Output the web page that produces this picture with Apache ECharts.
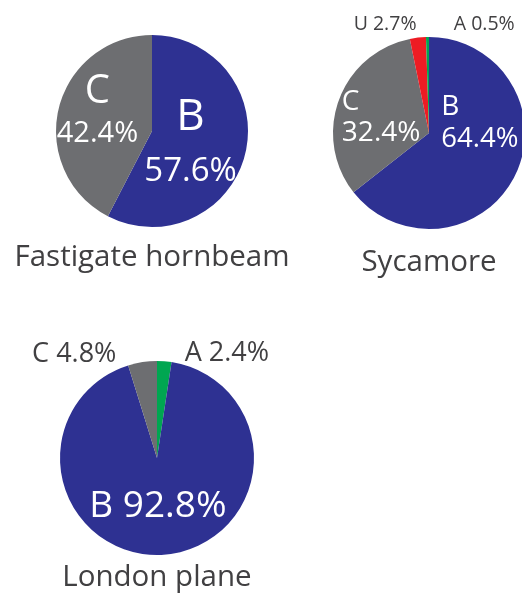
<!DOCTYPE html>
<html>
<head>
<meta charset="utf-8">
<script src="https://cdn.jsdelivr.net/npm/echarts@6/dist/echarts.min.js"></script>
<style>
  html, body { margin: 0; padding: 0; background: #fff; }
  #main { width: 522px; height: 595px; }
</style>
</head>
<body>
<div id="main"></div>
<script>
// data
var treeNames = ['Fastigate hornbeam', 'Sycamore', 'London plane'];
var hornbeamCats = ['B', 'C'];
var hornbeamVals = [57.6, 42.4];
var sycamoreCats = ['B', 'C', 'U', 'A'];
var sycamoreVals = [64.4, 32.4, 2.7, 0.5];
var planeCats = ['A', 'B', 'C'];
var planeVals = [2.4, 92.8, 4.8];

var catColors = { A: '#00a651', B: '#2e3192', C: '#6d6e71', U: '#ed1c24' };
var darkText = '#414042';
var font = 'Open Sans';

// label looks: 'stack' = letter over value, 'line' = one line
var labelStyles = [
    {
        B: { kind: 'stack', big: 44, num: 33, lh1: 60, lh2: 50, align: 'center', color: '#fff', offset: [-11, -1] },
        C: { kind: 'stack', big: 40, num: 29, lh1: 46, lh2: 38, align: 'center', color: '#fff', offset: [-5, -8] }
    },
    {
        B: { kind: 'stack', big: 28, num: 27.5, lh1: 32, lh2: 32, align: 'left', color: '#fff', offset: [5, -32] },
        C: { kind: 'stack', big: 28, num: 28, lh1: 31, lh2: 31, align: 'left', color: '#fff', offset: [0, 2] },
        U: { kind: 'line', size: 19.5, color: darkText, offset: [-38, -58] },
        A: { kind: 'line', size: 19.5, color: darkText, offset: [56, -58] }
    },
    {
        A: { kind: 'line', size: 27, color: darkText, offset: [66, -53] },
        B: { kind: 'line', size: 37, color: '#fff', offset: [-3, -3] },
        C: { kind: 'line', size: 27, color: darkText, offset: [-75, -53] }
    }
];

var centers = [[152, 131], [429, 133], [157, 458]];
var radii = [96, 96, 97];
var titleTops = [243, 248, 563];

function buildData(cats, vals, styles) {
    return cats.map(function (c, i) {
        var s = styles[c];
        var pct = vals[i].toFixed(1) + '%';
        var label;
        if (s.kind === 'stack') {
            label = {
                formatter: '{a|' + c + '}\n{b|' + pct + '}',
                offset: s.offset,
                rich: {
                    a: { fontSize: s.big, lineHeight: s.lh1, color: s.color, fontFamily: font, align: s.align },
                    b: { fontSize: s.num, lineHeight: s.lh2, color: s.color, fontFamily: font, align: s.align }
                }
            };
        } else {
            label = {
                formatter: c + ' ' + pct,
                offset: s.offset,
                fontSize: s.size,
                color: s.color,
                fontFamily: font
            };
        }
        return { name: c, value: vals[i], itemStyle: { color: catColors[c] }, label: label };
    });
}

var allCats = [hornbeamCats, sycamoreCats, planeCats];
var allVals = [hornbeamVals, sycamoreVals, planeVals];

var myChart = echarts.init(document.getElementById('main'));
var option = {
    backgroundColor: '#fff',
    animation: false,
    title: treeNames.map(function (n, i) {
        return {
            text: n,
            left: centers[i][0],
            top: titleTops[i],
            textAlign: 'center',
            padding: 0,
            textStyle: { fontFamily: font, fontSize: 29.5, fontWeight: 'normal', color: darkText }
        };
    }),
    series: treeNames.map(function (n, i) {
        return {
            name: n,
            type: 'pie',
            center: centers[i],
            radius: radii[i],
            startAngle: 90,
            clockwise: true,
            avoidLabelOverlap: false,
            silent: true,
            label: { show: true, position: 'inside', rotate: 0 },
            labelLine: { show: false },
            emphasis: { disabled: true },
            itemStyle: { borderWidth: 0 },
            data: buildData(allCats[i], allVals[i], labelStyles[i])
        };
    })
};
myChart.setOption(option, true);
</script>
</body>
</html>
